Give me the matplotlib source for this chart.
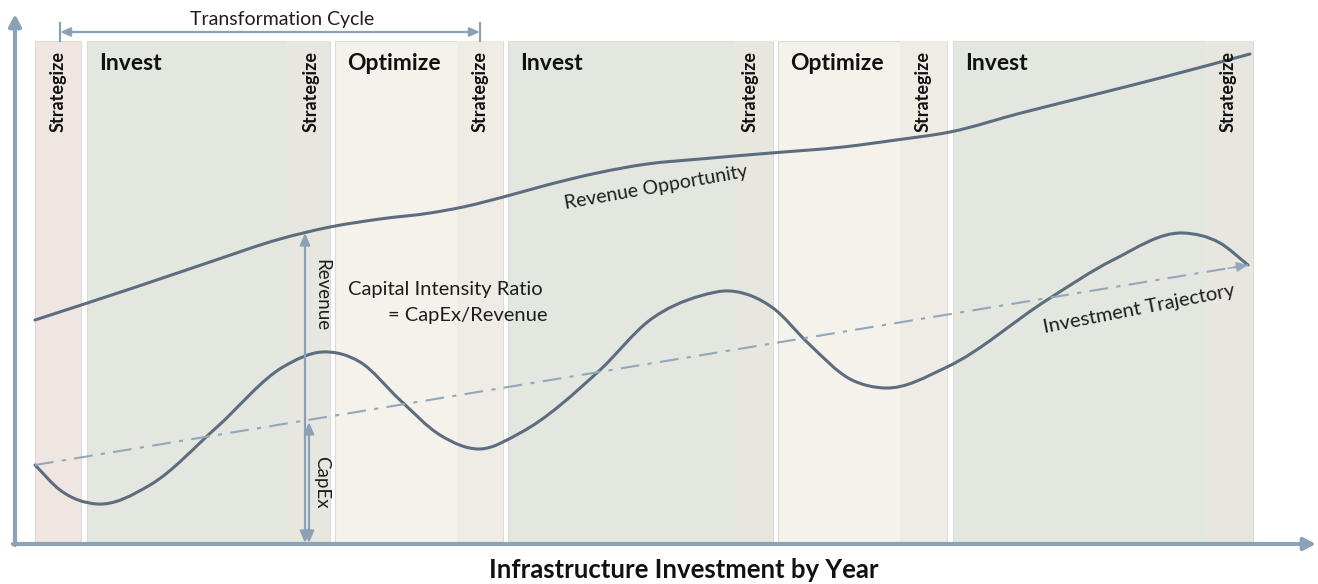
import numpy as np
import matplotlib.pyplot as plt
from matplotlib.patches import Rectangle, FancyArrowPatch, PathPatch
from matplotlib.path import Path

plt.rcParams['font.family'] = ['Lato', 'DejaVu Sans']

# chart space: x = position along the year axis, y = height (drawn downward like the slide)
rev_x = [35, 130, 210, 280, 330, 380, 430, 463, 507, 547, 597, 647, 700, 771, 843,
         896, 950, 1021, 1093, 1164, 1250]
rev_y = [320, 289, 262, 239, 227, 219, 213, 207, 196, 185, 173, 164, 159, 153, 147,
         140, 132, 113, 95, 77, 54]

capex_x = [35, 60, 97, 150, 217, 283, 322, 360, 400, 440, 480, 520, 600, 650, 700,
           730, 773, 808, 850, 885, 947, 1047, 1113, 1183, 1220, 1248]
capex_y = [465, 490, 504, 485, 427, 367, 352, 362, 400, 435, 449, 433, 370, 320, 296,
           291, 308, 343, 379, 388, 367, 300, 260, 233, 243, 265]

traj_x = [35, 1248]
traj_y = [465, 265]

# phase bands
band_start = [35, 87, 335, 508, 778, 953]
band_split = [35, 287, 457, 735, 900, 1205]
band_end = [81, 330, 503, 773, 947, 1253]
band_name = ['', 'Invest', 'Optimize', 'Invest', 'Optimize', 'Invest']
strat_x = [58, 311, 480, 750, 923, 1228]

col_invest = '#e4e7e0'
col_invest_s = '#e7e6df'
col_opt = '#f5f2ec'
col_opt_s = '#efece6'
col_first = '#efe6e2'
line_col = '#5b6d7e'
axis_col = '#8ba1b6'
traj_col = '#93a7ba'
txt_col = '#1e1e1e'


def smooth_path(xs, ys):
    # cubic hermite in x through the read points
    x = np.asarray(xs, float)
    y = np.asarray(ys, float)
    m = np.gradient(y, x)
    verts = [(x[0], y[0])]
    codes = [Path.MOVETO]
    for i in range(len(x) - 1):
        h = x[i + 1] - x[i]
        verts += [(x[i] + h / 3, y[i] + m[i] * h / 3),
                  (x[i + 1] - h / 3, y[i + 1] - m[i + 1] * h / 3),
                  (x[i + 1], y[i + 1])]
        codes += [Path.CURVE4] * 3
    return Path(verts, codes)


def arrow(a, b, style, col, lw):
    ax.add_patch(FancyArrowPatch(a, b, arrowstyle=style, color=col, lw=lw,
                                 mutation_scale=1, shrinkA=0, shrinkB=0))


fig = plt.figure(figsize=(13.18, 5.84), dpi=100)
ax = fig.add_axes([0, 0, 1, 1])
ax.set_xlim(0, 1318)
ax.set_ylim(584, 0)
ax.axis('off')

top, bottom = 41, 543
for i in range(len(band_start)):
    if band_name[i] == '':
        ax.add_patch(Rectangle((band_start[i], top), band_end[i] - band_start[i], bottom - top,
                               facecolor=col_first, edgecolor='#dedad6', lw=0.8))
        continue
    main = col_invest if band_name[i] == 'Invest' else col_opt
    side = col_invest_s if band_name[i] == 'Invest' else col_opt_s
    ax.add_patch(Rectangle((band_start[i], top), band_end[i] - band_start[i], bottom - top,
                           facecolor=main, edgecolor='#dcdcd8', lw=0.8))
    ax.add_patch(Rectangle((band_split[i], top), band_end[i] - band_split[i], bottom - top,
                           facecolor=side, edgecolor='none'))
    ax.text(band_start[i] + 12, 63, band_name[i], fontsize=16.5, fontweight='bold',
            ha='left', va='center', color='#111111')

for x in strat_x:
    ax.text(x, 92, 'Strategize', rotation=90, fontsize=13, fontweight='bold',
            ha='center', va='center', color='#111111')

# axes arrows
arrow((15, 545), (15, 14), '-|>,head_length=7,head_width=3.6', axis_col, 3)
arrow((13, 544), (1316, 544), '-|>,head_length=7,head_width=3.6', axis_col, 3)

# transformation cycle bracket
arrow((60, 32), (480, 32), '<|-|>,head_length=6,head_width=2.6', axis_col, 1.6)
ax.plot([60, 60], [23, 41], color=axis_col, lw=1.6)
ax.plot([480, 480], [23, 41], color=axis_col, lw=1.6)
ax.text(282, 19, 'Transformation Cycle', fontsize=14, ha='center', va='center', color=txt_col)

# investment trajectory
ax.plot(traj_x, traj_y, color=traj_col, lw=1.5, ls=(0, (9, 4, 2, 4)))
arrow((traj_x[1] - 20, traj_y[1] + 3.3), (traj_x[1], traj_y[1]),
      '-|>,head_length=7,head_width=3', traj_col, 1)

# curves
ax.add_patch(PathPatch(smooth_path(rev_x, rev_y), facecolor='none', edgecolor=line_col,
                       lw=2.2, capstyle='round'))
ax.add_patch(PathPatch(smooth_path(capex_x, capex_y), facecolor='none', edgecolor=line_col,
                       lw=2.2, capstyle='round'))

# revenue / capex measures
arrow((305, 233), (305, 543), '<|-|>,head_length=7,head_width=3', axis_col, 1.6)
arrow((309, 422), (309, 543), '<|-|>,head_length=7,head_width=3', axis_col, 1.6)
ax.text(322, 295, 'Revenue', rotation=-90, fontsize=13.5, ha='center', va='center', color=txt_col)
ax.text(322, 482, 'CapEx', rotation=-90, fontsize=13.5, ha='center', va='center', color=txt_col)

ax.text(348, 290, 'Capital Intensity Ratio', fontsize=14.5, ha='left', va='center', color=txt_col)
ax.text(388, 316, '= CapEx/Revenue', fontsize=14.5, ha='left', va='center', color=txt_col)

ax.text(656, 188, 'Revenue Opportunity', rotation=10, rotation_mode='anchor', fontsize=14,
        ha='center', va='center', color=txt_col)
ax.text(1139, 309, 'Investment Trajectory', rotation=11, rotation_mode='anchor', fontsize=14.5,
        ha='center', va='center', color=txt_col)

ax.text(684, 570, 'Infrastructure Investment by Year', fontsize=18.5, fontweight='bold',
        ha='center', va='center', color='#111111')

fig.savefig('out.png', dpi=100)
